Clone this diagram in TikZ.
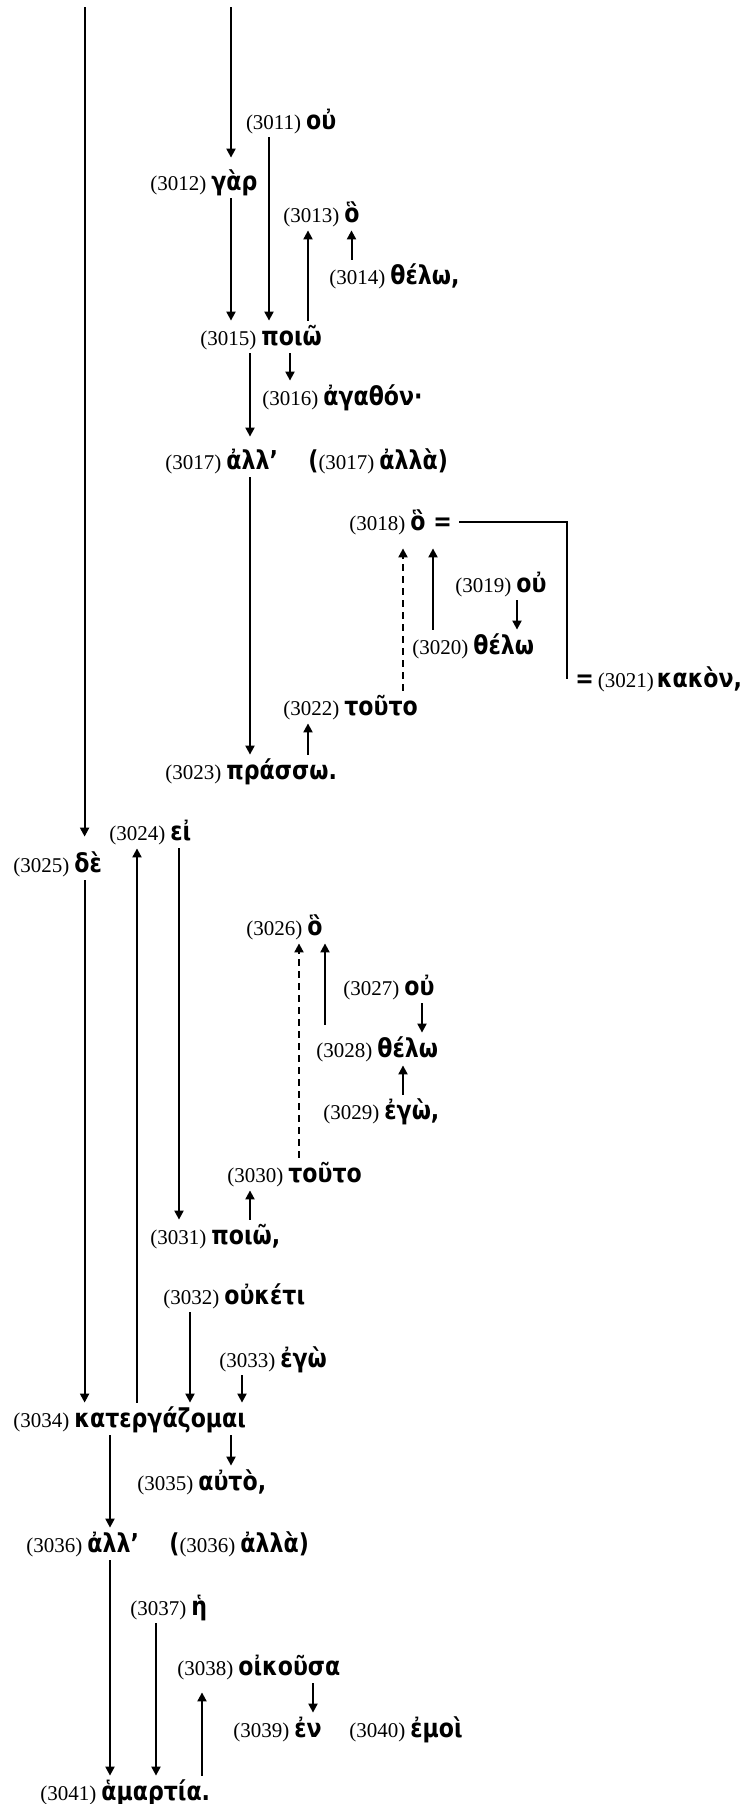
\documentclass[tikz,border=0pt]{standalone}
\usepackage{fontspec}
\setmainfont{Liberation Serif}
\newfontfamily\grk[FakeStretch=0.85]{DejaVu Sans}
\usetikzlibrary{arrows.meta}
\newcommand{\wn}[1]{{\fontsize{10.5}{12}\selectfont(#1)}\hspace{2.5pt}}
\newcommand{\wg}[1]{{\grk\bfseries\fontsize{13}{15}\selectfont #1}}

\begin{document}
\begin{tikzpicture}[x=0.5pt,y=-0.5pt,
  word/.style={anchor=base west,inner sep=0pt,text height=12pt,text depth=4pt},
  arr/.style={-{Triangle[length=4.5pt,width=4.5pt]},line width=1pt},
  dsh/.style={arr,dash pattern=on 3.5pt off 2.5pt}]
\useasboundingbox (0,0) rectangle (741,1804);
\coordinate (topA) at (84.6,7);
\coordinate (topB) at (231,7);

\node[word] (w3011) at (245.6,129) {\wn{3011}\wg{οὐ}};
\node[word] (w3012) at (150,190) {\wn{3012}\wg{γὰρ}};
\node[word] (w3013) at (283,222) {\wn{3013}\wg{ὃ}};
\node[word] (w3014) at (329,284) {\wn{3014}\wg{θέλω,}};
\node[word] (w3015) at (200,345) {\wn{3015}\wg{ποιῶ}};
\node[word] (w3016) at (262,405) {\wn{3016}\wg{ἀγαθόν·}};
\node[word] (w3017) at (165,469) {\wn{3017}\wg{ἀλλ’}};
\node[word] (w3017b) at (308,469) {\wg{(}\wn{3017}\wg{ἀλλὰ)}};
\node[word] (w3018) at (349,530) {\wn{3018}\wg{ὃ =}};
\node[word] (w3019) at (455,592) {\wn{3019}\wg{οὐ}};
\node[word] (w3020) at (412,654) {\wn{3020}\wg{θέλω}};
\node[word] (w3021) at (575,687) {\wg{=}\hspace{2pt}{\fontsize{10.5}{12}\selectfont(3021)}\hspace{1.5pt}\wg{κακὸν,}};
\node[word] (w3022) at (283,715) {\wn{3022}\wg{τοῦτο}};
\node[word] (w3023) at (165,779) {\wn{3023}\wg{πράσσω.}};
\node[word] (w3024) at (109,840) {\wn{3024}\wg{εἰ}};
\node[word] (w3025) at (13,872) {\wn{3025}\wg{δὲ}};
\node[word] (w3026) at (246,935) {\wn{3026}\wg{ὃ}};
\node[word] (w3027) at (343,995) {\wn{3027}\wg{οὐ}};
\node[word] (w3028) at (316,1057) {\wn{3028}\wg{θέλω}};
\node[word] (w3029) at (323,1119) {\wn{3029}\wg{ἐγὼ,}};
\node[word] (w3030) at (227,1182) {\wn{3030}\wg{τοῦτο}};
\node[word] (w3031) at (150,1244) {\wn{3031}\wg{ποιῶ,}};
\node[word] (w3032) at (163,1304) {\wn{3032}\wg{οὐκέτι}};
\node[word] (w3033) at (219,1367) {\wn{3033}\wg{ἐγὼ}};
\node[word] (w3034) at (13,1427) {\wn{3034}\wg{κατεργάζομαι}};
\node[word] (w3035) at (137,1490) {\wn{3035}\wg{αὐτὸ,}};
\node[word] (w3036) at (26,1552) {\wn{3036}\wg{ἀλλ’}};
\node[word] (w3036b) at (169,1552) {\wg{(}\wn{3036}\wg{ἀλλὰ)}};
\node[word] (w3037) at (130,1615) {\wn{3037}\wg{ἡ}};
\node[word] (w3038) at (177,1675) {\wn{3038}\wg{οἰκοῦσα}};
\node[word] (w3039) at (233,1737) {\wn{3039}\wg{ἐν}};
\node[word] (w3040) at (349,1737) {\wn{3040}\wg{ἐμοὶ}};
\node[word] (w3041) at (40,1800) {\wn{3041}\wg{ἁμαρτία.}};

% first clause
\draw[arr,shorten >=5.5pt] (topA) -- (topA |- w3025.north);
\draw[arr,shorten >=4pt] (topB) -- (topB |- w3012.north);
\draw[arr] (269,0 |- w3011.south) -- (269,0 |- w3015.north);
\draw[arr] (231,0 |- w3012.south) -- (231,0 |- w3015.north);
\draw[arr] (308,0 |- w3015.north) -- (308,0 |- w3013.south);
\draw[arr] (351.5,0 |- w3014.north) -- (351.5,0 |- w3013.south);
\draw[arr,shorten >=4pt] (250,0 |- w3015.south) -- (250,0 |- w3017.north);
\draw[arr] (290,0 |- w3015.south) -- (290,0 |- w3016.north);
\draw[arr] (250,0 |- w3017.south) -- (250,0 |- w3023.north);

% relative clause and its antecedent
\draw[line width=1pt] ([xshift=3.5pt]w3018.east) -| ([xshift=-4pt]w3021.west);
\draw[dsh,shorten >=5pt] (403,0 |- w3022.north) -- (403,0 |- w3018.south);
\draw[arr,shorten >=5pt] (433,0 |- w3020.north) -- (433,0 |- w3018.south);
\draw[arr] (517,0 |- w3019.south) -- (517,0 |- w3020.north);
\draw[arr] (308,0 |- w3023.north) -- (308,0 |- w3022.south);

% second sentence
\draw[arr] (137,0 |- w3034.north) -- (137,0 |- w3024.south);
\draw[arr] (179,0 |- w3024.south) -- (179,0 |- w3031.north);
\draw[arr] (84.6,0 |- w3025.south) -- (84.6,0 |- w3034.north);
\draw[dsh] (299,0 |- w3030.north) -- (299,0 |- w3026.south);
\draw[arr,shorten <=4pt] (325,0 |- w3028.north) -- (325,0 |- w3026.south);
\draw[arr] (422,0 |- w3027.south) -- (422,0 |- w3028.north);
\draw[arr] (403,0 |- w3029.north) -- (403,0 |- w3028.south);
\draw[arr] (250,0 |- w3031.north) -- (250,0 |- w3030.south);
\draw[arr] (190,0 |- w3032.south) -- (190,0 |- w3034.north);
\draw[arr] (242,0 |- w3033.south) -- (242,0 |- w3034.north);
\draw[arr] (110,0 |- w3034.south) -- (110,0 |- w3036.north);
\draw[arr] (231,0 |- w3034.south) -- (231,0 |- w3035.north);
\draw[arr] (110,0 |- w3036.south) -- (110,0 |- w3041.north);
\draw[arr] (156,0 |- w3037.south) -- (156,0 |- w3041.north);
\draw[arr,shorten >=4.5pt] (202,0 |- w3041.north) -- (202,0 |- w3038.south);
\draw[arr] (313,0 |- w3038.south) -- (313,0 |- w3039.north);
\end{tikzpicture}
\end{document}
